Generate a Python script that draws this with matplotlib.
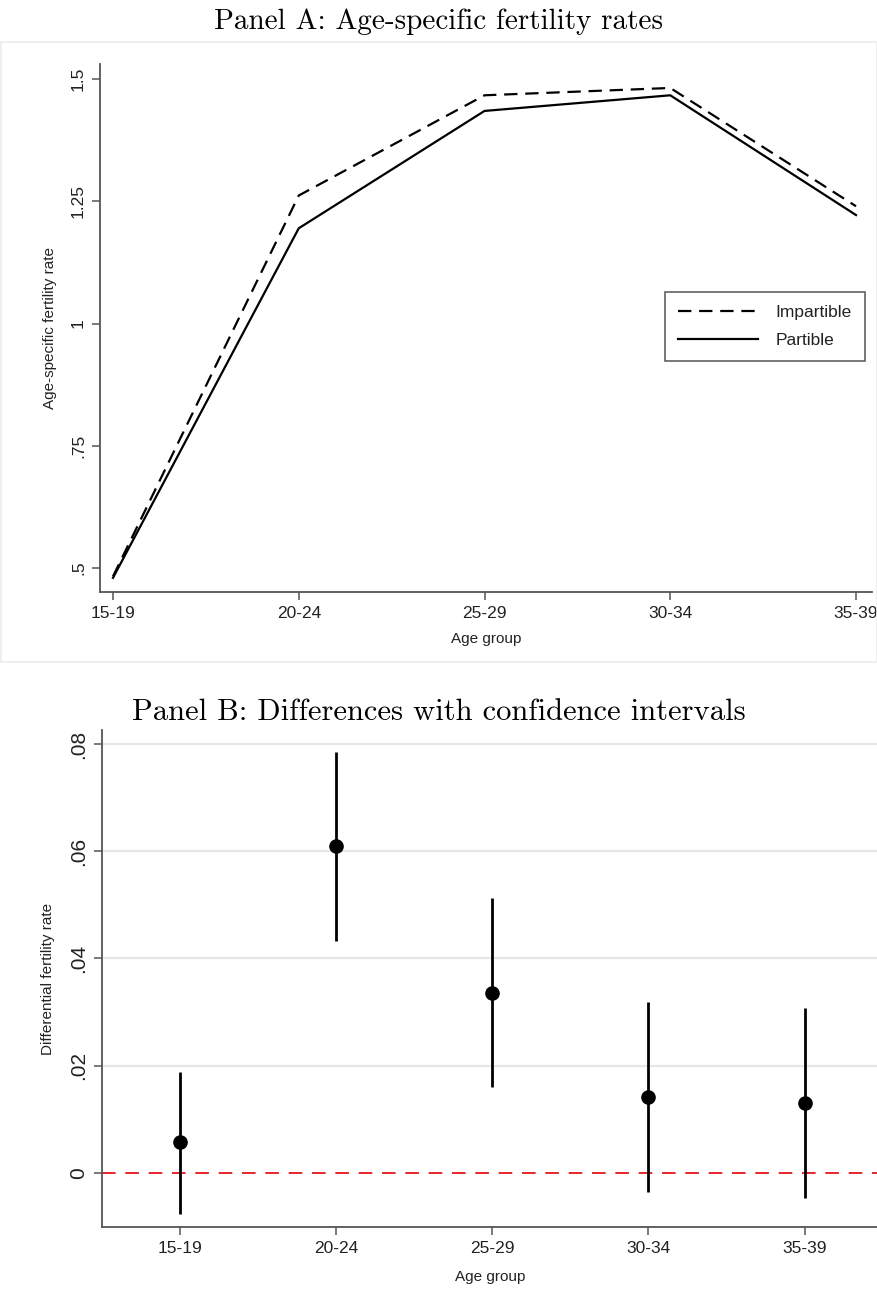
import matplotlib
matplotlib.use("Agg")
import matplotlib.pyplot as plt
from matplotlib.patches import Rectangle

# data
age_groups = ["15-19", "20-24", "25-29", "30-34", "35-39"]
impartible = [0.483, 1.262, 1.467, 1.482, 1.240]
partible = [0.480, 1.195, 1.435, 1.467, 1.222]

diff = [0.0058, 0.0610, 0.0335, 0.0142, 0.0130]
ci_low = [-0.0076, 0.0433, 0.0160, -0.0035, -0.0047]
ci_high = [0.0188, 0.0785, 0.0512, 0.0319, 0.0308]

a_ticks = [0.5, 0.75, 1.0, 1.25, 1.5]
a_ticklabels = [".5", ".75", "1", "1.25", "1.5"]
b_ticks = [0, 0.02, 0.04, 0.06, 0.08]
b_ticklabels = ["0", ".02", ".04", ".06", ".08"]

W, H = 878, 1300
fig = plt.figure(figsize=(W / 100, H / 100), dpi=100)
plt.rcParams['font.family'] = ['Liberation Sans', 'DejaVu Sans']

def px_axes(l, t, r, b):
    return fig.add_axes([l / W, 1 - b / H, (r - l) / W, (b - t) / H])

spine_col = "#555555"
txt_col = "#222222"
x = list(range(len(age_groups)))

# faint graph region border for panel A
fig.patches.append(Rectangle((1 / W, 1 - 662 / H), 876 / W, 620 / H,
                             transform=fig.transFigure, fill=False,
                             edgecolor="#ececec", lw=1.2))

# ---- Panel A
ax1 = px_axes(100, 64, 872, 592)
ax1.plot(x, impartible, color="black", lw=1.6, ls=(0, (6, 3.5)), label="Impartible")
ax1.plot(x, partible, color="black", lw=1.6, label="Partible")
ax1.set_xlim(-0.07, 4.086)
ax1.set_ylim(0.451, 1.531)
ax1.set_xticks(x)
ax1.set_xticklabels(age_groups, fontsize=12.5, color=txt_col)
ax1.set_yticks(a_ticks)
ax1.set_yticklabels(a_ticklabels, fontsize=12.5, rotation=90, va="center", color=txt_col)
ax1.set_xlabel("Age group", fontsize=11, color=txt_col, labelpad=8)
ax1.set_ylabel("Age-specific fertility rate", fontsize=11, color=txt_col, labelpad=10)
for s in ["top", "right"]:
    ax1.spines[s].set_visible(False)
for s in ["left", "bottom"]:
    ax1.spines[s].set_color(spine_col)
    ax1.spines[s].set_linewidth(1.3)
ax1.tick_params(length=6, width=1.1, color=spine_col, pad=4)
leg = ax1.legend(loc="upper left", bbox_to_anchor=(665 / W, 1 - 292 / H),
                 bbox_transform=fig.transFigure, fontsize=12.5, frameon=True,
                 fancybox=False, edgecolor=spine_col, framealpha=1,
                 handlelength=4.6, handletextpad=1.0, borderpad=0.75,
                 labelspacing=0.75, borderaxespad=0)
leg.get_frame().set_linewidth(1.1)
for t in leg.get_texts():
    t.set_color(txt_col)
fig.text(0.5, 1 - 22 / H, "Panel A: Age-specific fertility rates",
         family="cmr10", fontsize=21, ha="center", va="center")

# ---- Panel B
ax2 = px_axes(102, 730, 878, 1227)
for t in b_ticks[1:]:
    ax2.axhline(t, color="#e6e6e6", lw=1.5, zorder=0)
ax2.axhline(0, color="#e8262b", lw=1.4, ls=(0, (7, 5)), zorder=1)
yerr = [[d - lo for d, lo in zip(diff, ci_low)], [hi - d for d, hi in zip(diff, ci_high)]]
ax2.errorbar(x, diff, yerr=yerr, fmt="o", color="black", ms=9.5,
             elinewidth=2.0, capsize=0, zorder=3)
ax2.set_xlim(-0.5, 4.47)
ax2.set_ylim(-0.0101, 0.0826)
ax2.set_xticks(x)
ax2.set_xticklabels(age_groups, fontsize=12.5, color=txt_col)
ax2.set_yticks(b_ticks)
ax2.set_yticklabels(b_ticklabels, fontsize=15, rotation=90, va="center", color=txt_col)
ax2.set_xlabel("Age group", fontsize=11, color=txt_col, labelpad=10)
ax2.set_ylabel("Differential fertility rate", fontsize=11, color=txt_col, labelpad=10)
for s in ["top", "right"]:
    ax2.spines[s].set_visible(False)
for s in ["left", "bottom"]:
    ax2.spines[s].set_color(spine_col)
    ax2.spines[s].set_linewidth(1.3)
ax2.tick_params(length=6, width=1.1, color=spine_col, pad=4)
fig.text(0.5, 1 - 712 / H, "Panel B: Differences with confidence intervals",
         family="cmr10", fontsize=22, ha="center", va="center")

fig.savefig("out.png", dpi=100)
